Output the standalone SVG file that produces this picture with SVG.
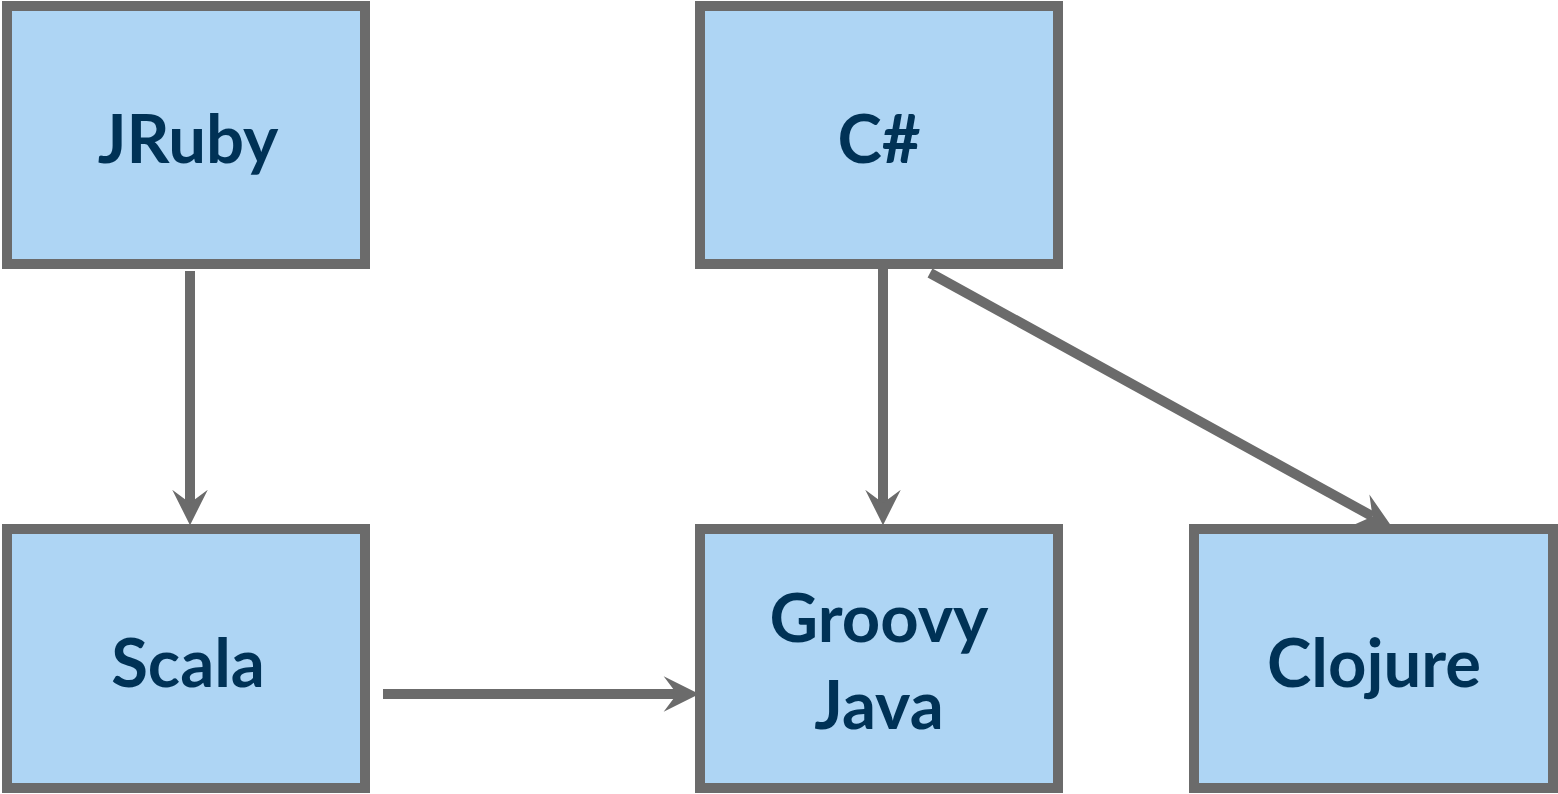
<svg xmlns="http://www.w3.org/2000/svg" width="1558" height="794" viewBox="0 0 1558 794">
<style>
.box{fill:#aed5f4;stroke:#6b6b6b;stroke-width:10}
.lbl{font-family:"Lato","Open Sans",sans-serif;font-size:67px;font-weight:700;fill:#003256;text-anchor:middle}
.edge{stroke:#6b6b6b;stroke-width:10;fill:none}
</style>
<defs>
<marker id="ah" markerUnits="userSpaceOnUse" markerWidth="40" markerHeight="40" viewBox="-14 -18 36 36" refX="0" refY="0" orient="auto">
<path d="M20,0 L-12,-16 L0,0 L-12,16 Z" fill="#6b6b6b"/>
</marker>
</defs>
<g id="edges">
<line class="edge" x1="190" y1="271" x2="190" y2="503" marker-end="url(#ah)"/>
<line class="edge" x1="383" y1="694" x2="677" y2="694" marker-end="url(#ah)"/>
<line class="edge" x1="883" y1="268" x2="883" y2="503" marker-end="url(#ah)"/>
<line class="edge" x1="930" y1="273" x2="1372.5" y2="516.4" marker-end="url(#ah)"/>
</g>
<g id="jruby"><rect class="box" x="7" y="6" width="358" height="258"/><text class="lbl" x="188" y="163">JRuby</text></g>
<g id="csharp"><rect class="box" x="700" y="6" width="358" height="258"/><text class="lbl" x="879" y="163">C#</text></g>
<g id="scala"><rect class="box" x="7" y="529" width="358" height="259"/><text class="lbl" x="188" y="687">Scala</text></g>
<g id="groovy"><rect class="box" x="700" y="529" width="358" height="259"/><text class="lbl" x="879" y="642">Groovy</text><text class="lbl" x="879" y="729">Java</text></g>
<g id="clojure"><rect class="box" x="1194" y="529" width="359" height="259"/><text class="lbl" x="1374" y="687">Clojure</text></g>
</svg>
